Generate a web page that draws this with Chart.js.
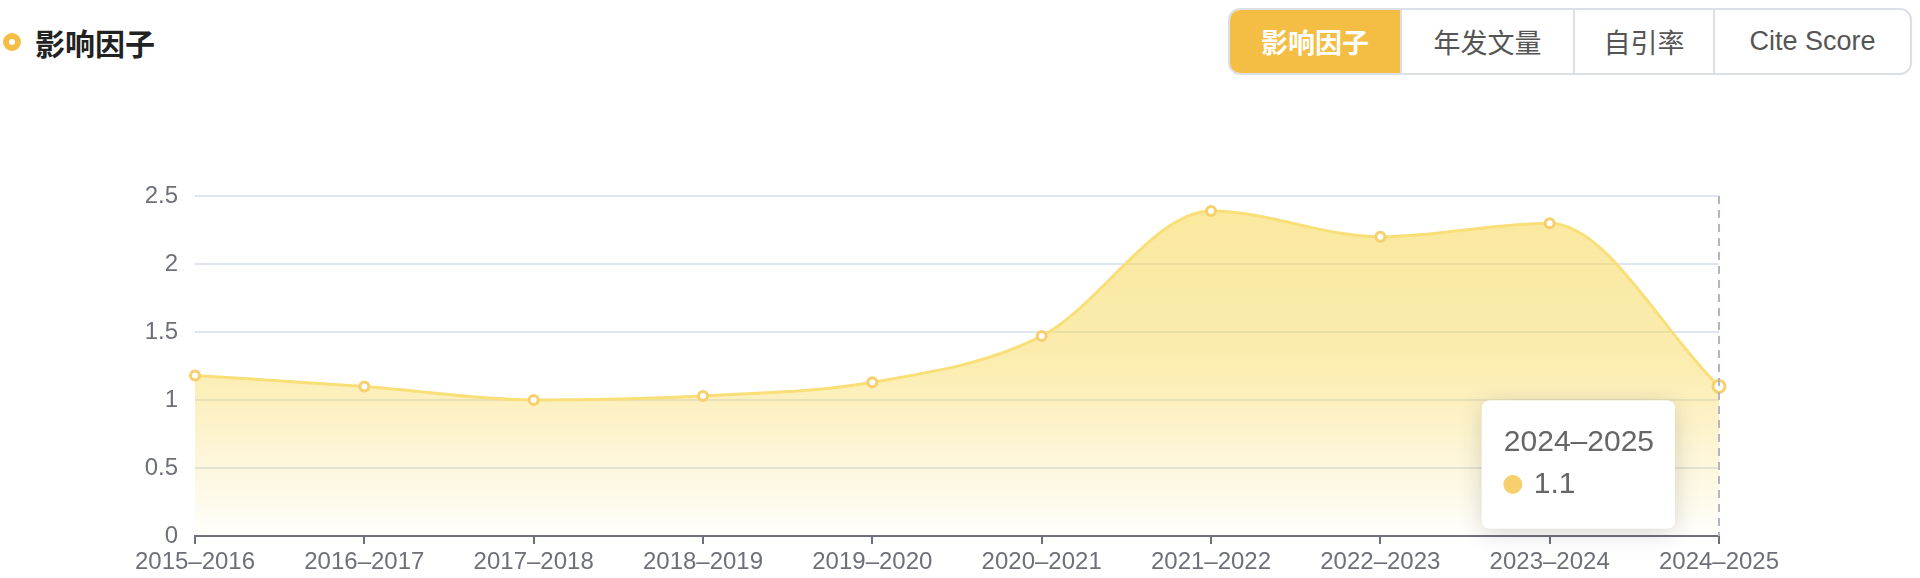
<!DOCTYPE html>
<html>
<head>
<meta charset="utf-8">
<script src="https://cdn.jsdelivr.net/npm/chart.js@4.4.1/dist/chart.umd.min.js"></script>
<style>
  html, body { margin: 0; padding: 0; background: #fff; }
  body { width: 1920px; height: 578px; position: relative; overflow: hidden;
    font-family: 'Liberation Sans', 'Noto Sans CJK SC', sans-serif; }
  .title { position: absolute; left: 0; top: 20px; height: 44px; display: flex; align-items: center; }
  .title .dot { width: 6px; height: 6px; border: 6px solid #f4be45; border-radius: 50%; margin-left: 3px; background: #fff; }
  .title span { margin-left: 14px; font-size: 30px; font-weight: bold; color: #222; font-family: 'Noto Sans CJK SC', sans-serif; }
  .tabs { position: absolute; left: 1228px; top: 8px; height: 63px; display: flex;
    border: 2px solid #dcdfe6; border-radius: 12px; overflow: hidden; }
  .tabs div { height: 100%; display: flex; align-items: center; justify-content: center;
    font-size: 27px; color: #555; border-left: 2px solid #dcdfe6; box-sizing: border-box; }
  .tabs div:first-child { border-left: none; }
  .tabs div.active { background: #f4be45; color: #fff; font-weight: bold; }
  #wrap { position: absolute; left: 0; top: 0; width: 1920px; height: 578px; }
</style>
</head>
<body>
<div class="title"><div class="dot"></div><span>影响因子</span></div>
<div class="tabs" id="tabs"></div>
<div id="wrap"><canvas id="myChart"></canvas></div>
<script>
const years = [
  '2015–2016', '2016–2017', '2017–2018', '2018–2019', '2019–2020',
  '2020–2021', '2021–2022', '2022–2023', '2023–2024', '2024–2025',
];
const impactFactor = [1.18, 1.1, 1.0, 1.03, 1.13, 1.47, 2.39, 2.2, 2.3, 1.1];
const tabNames = ['影响因子', '年发文量', '自引率', 'Cite Score'];
const tabWidths = [170, 173, 140, 197];
const activeIndex = 9;

const tabs = document.querySelector('#tabs');
tabNames.forEach((name, i) => {
  const d = document.createElement('div');
  d.textContent = name;
  d.style.width = tabWidths[i] + 'px';
  if (i === 0) d.className = 'active';
  tabs.appendChild(d);
});

Chart.Tooltip.positioners.pinned = (elements) => {
  if (!elements.length) return false;
  const el = elements[0].element;
  return { x: el.x - 52, y: el.y + 14 };
};

// dashed pointer line + tooltip shadow
const pointerPlugin = {
  id: 'pointer',
  afterDatasetsDraw(chart) {
    const active = chart.getActiveElements();
    if (!active.length) return;
    const { ctx, chartArea } = chart;
    const x = active[0].element.x;
    ctx.save();
    ctx.strokeStyle = '#b1b5c4';
    ctx.lineWidth = 2;
    ctx.setLineDash([8, 6]);
    ctx.beginPath();
    ctx.moveTo(x, chartArea.top);
    ctx.lineTo(x, chartArea.bottom);
    ctx.stroke();
    ctx.restore();
  },
  beforeTooltipDraw(chart, args) {
    const t = args.tooltip;
    if (!t.opacity) return;
    const { ctx } = chart;
    ctx.save();
    ctx.shadowColor = 'rgba(0,0,0,0.16)';
    ctx.shadowBlur = 24;
    ctx.shadowOffsetY = 4;
    ctx.fillStyle = '#fff';
    ctx.beginPath();
    ctx.roundRect(t.x, t.y, t.width, t.height, 8);
    ctx.fill();
    ctx.restore();
  },
};

const areaFill = (context) => {
  const { ctx, chartArea } = context.chart;
  if (!chartArea) return 'rgba(247,214,80,0.5)';
  const g = ctx.createLinearGradient(0, chartArea.top, 0, chartArea.bottom);
  g.addColorStop(0, 'rgba(247,214,80,0.56)');
  g.addColorStop(0.5, 'rgba(247,214,80,0.45)');
  g.addColorStop(1, 'rgba(247,214,80,0.02)');
  return g;
};

const config = {
  type: 'line',
  data: {
    labels: years,
    datasets: [
      {
        label: '影响因子',
        data: impactFactor,
        borderColor: '#f9df78',
        borderWidth: 3,
        backgroundColor: areaFill,
        fill: 'origin',
        cubicInterpolationMode: 'monotone',
        pointRadius: 4.5,
        pointBorderWidth: 3,
        pointBackgroundColor: '#fff',
        pointBorderColor: '#f7cf6c',
        pointHoverRadius: 6,
        pointHoverBorderWidth: 3,
        pointHoverBackgroundColor: '#fff',
        pointHoverBorderColor: '#f7cf6c',
      },
    ],
  },
  options: {
    responsive: true,
    maintainAspectRatio: false,
    animation: false,
    events: [],
    layout: { padding: { left: 0, right: 201, top: 196, bottom: 0 } },
    scales: {
      x: {
        offset: false,
        grid: { drawOnChartArea: false, drawTicks: true, tickLength: 8, color: '#6e7079', lineWidth: 2 },
        border: { color: '#6e7079', width: 2 },
        ticks: { color: '#6e7079', font: { size: 24, family: 'Liberation Sans' }, padding: 4, maxRotation: 0, autoSkip: false },
        afterFit: (s) => { s.height = 42; },
      },
      y: {
        min: 0,
        max: 2.5,
        grid: { color: '#e0e6f1', lineWidth: 2, drawTicks: false },
        border: { display: false },
        ticks: {
          stepSize: 0.5,
          color: '#6e7079',
          font: { size: 24, family: 'Liberation Sans' },
          padding: 17,
          callback: (v) => String(Number(v)),
        },
        afterFit: (s) => { s.width = 195; },
      },
    },
    plugins: {
      legend: { display: false },
      tooltip: {
        position: 'pinned',
        xAlign: 'right',
        yAlign: 'top',
        caretSize: 0,
        caretPadding: 0,
        cornerRadius: 8,
        backgroundColor: '#fff',
        titleColor: '#666',
        bodyColor: '#666',
        titleFont: { size: 30, weight: 'normal', family: 'Liberation Sans' },
        bodyFont: { size: 30, family: 'Liberation Sans' },
        titleMarginBottom: 6,
        padding: { top: 24, bottom: 26, left: 22, right: 21 },
        displayColors: true,
        usePointStyle: true,
        boxWidth: 18,
        boxHeight: 18,
        boxPadding: 10,
        callbacks: {
          label: (item) => String(item.raw),
          labelColor: () => ({ borderColor: '#f7cf6c', backgroundColor: '#f7cf6c' }),
          labelPointStyle: () => ({ pointStyle: 'circle', rotation: 0 }),
        },
      },
    },
  },
  plugins: [pointerPlugin],
};

const myChart = new Chart(document.querySelector('#myChart'), config);
const act = [{ datasetIndex: 0, index: activeIndex }];
myChart.setActiveElements(act);
const el = myChart.getDatasetMeta(0).data[activeIndex];
myChart.tooltip.setActiveElements(act, { x: el.x, y: el.y });
myChart.update('none');
</script>
</body>
</html>
